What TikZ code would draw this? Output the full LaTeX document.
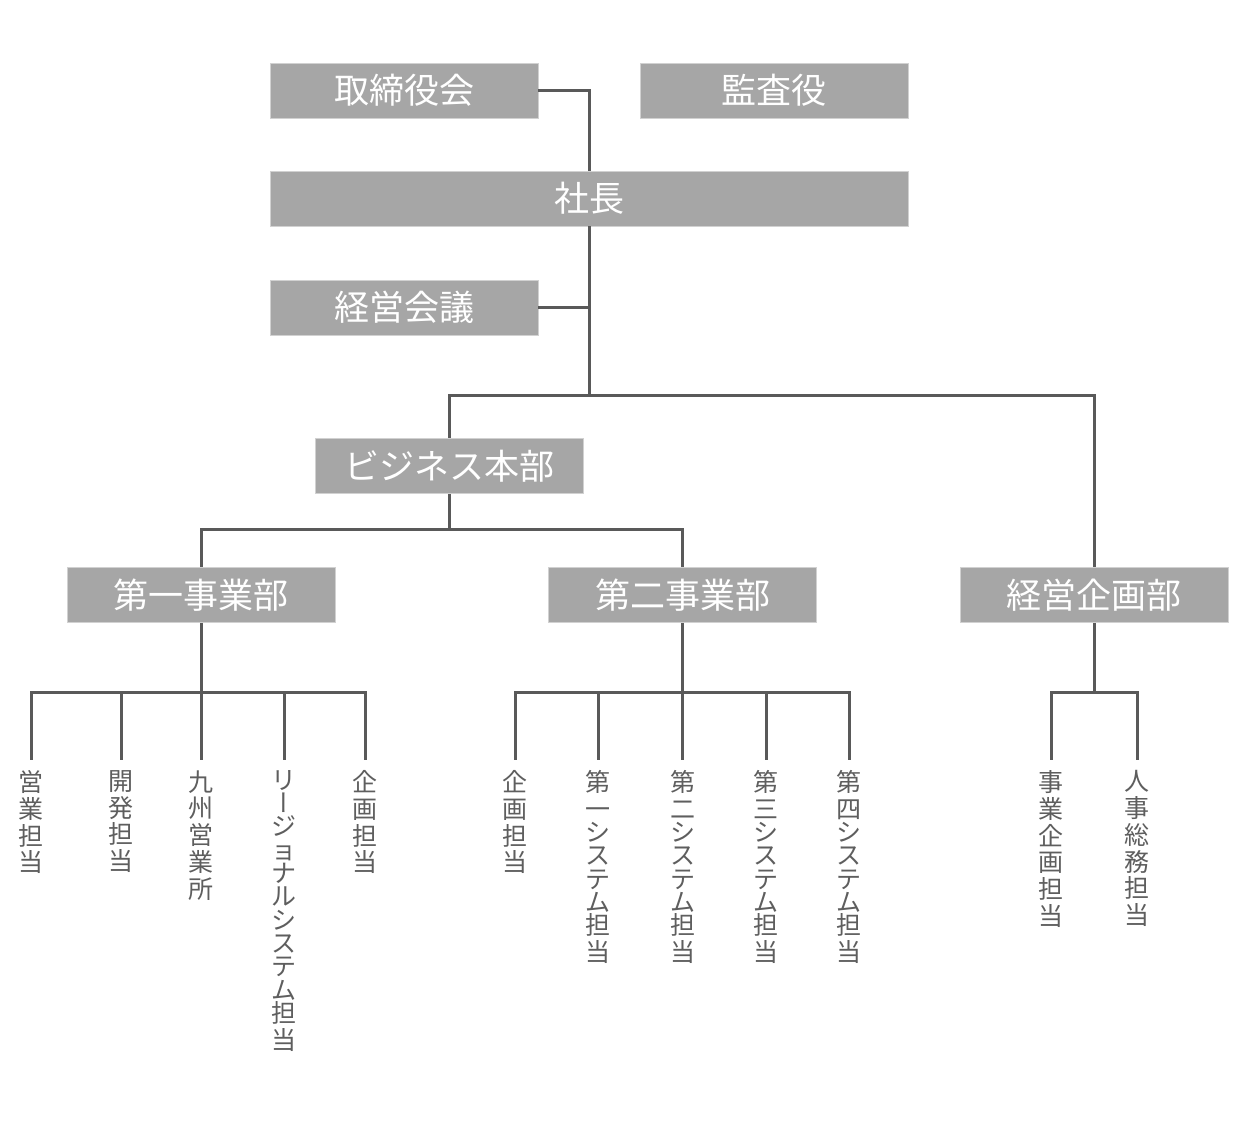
\documentclass[tikz,border=0pt]{standalone}
\usepackage{fontspec}
\setmainfont{Noto Sans CJK JP}
\newfontfamily\tatefont{Noto Sans CJK JP}[RawFeature=+vert]
\usepackage{tikz}
\definecolor{boxgray}{HTML}{A6A6A6}
\definecolor{linegray}{HTML}{595959}
\definecolor{textgray}{HTML}{5E5E5E}
\newcommand\kb{\\[-1.75pt]}

\begin{document}
\begin{tikzpicture}[x=0.5pt, y=-0.5pt,
    post/.style={fill=boxgray, draw=black!18, line width=0.4pt, text=white, minimum width=134pt, minimum height=27.5pt, inner sep=0pt, font=\fontsize{17.5}{20}\selectfont},
    team/.style={anchor=north, inner xsep=0pt, inner ysep=5pt, align=center, text=textgray, font=\fontsize{12.5}{13.4}\selectfont},
    link/.style={draw=linegray, line width=1.5pt}]
			%%%%% START %%%%%
			
			\useasboundingbox (0, 0) rectangle (1236, 1135);
			
			\node[post] (board) at (404, 90.5) {取締役会};
			\node[post] (audit) at (774, 90.5) {監査役};
			\node[post, minimum width=319pt] (pres) at (589, 198.5) {社長};
			\node[post] (mtg) at (404, 307.5) {経営会議};
			
			\node[post] (biz) at (449, 466) {ビジネス本部};
			\node[post] (div1) at (201, 595) {第一事業部};
			\node[post] (div2) at (682.5, 595) {第二事業部};
			\node[post] (plan) at (1094, 595) {経営企画部};
			
			\node[team] (s1) at (31, 760) {営\\業\\担\\当};
			\node[team] (s2) at (121, 760) {開\\発\\担\\当};
			\node[team] (s3) at (201, 760) {九\\州\\営\\業\\所};
			\node[team] (s4) at (284, 760) {リ\kb{\tatefont ー}\kb ジ\kb ョ\kb ナ\kb ル\kb シ\kb ス\kb テ\kb ム\kb 担\\当};
			\node[team] (s5) at (365, 760) {企\\画\\担\\当};
			
			\node[team] (t1) at (515, 760) {企\\画\\担\\当};
			\node[team] (t2) at (598, 760) {第\\一\kb シ\kb ス\kb テ\kb ム\kb 担\\当};
			\node[team] (t3) at (682.5, 760) {第\\二\kb シ\kb ス\kb テ\kb ム\kb 担\\当};
			\node[team] (t4) at (766, 760) {第\\三\kb シ\kb ス\kb テ\kb ム\kb 担\\当};
			\node[team] (t5) at (849, 760) {第\\四\kb シ\kb ス\kb テ\kb ム\kb 担\\当};
			
			\node[team] (u1) at (1051, 760) {事\\業\\企\\画\\担\\当};
			\node[team] (u2) at (1137, 760) {人\\事\\総\\務\\担\\当};
			
			% top
			\draw[link] (board.east) -| (pres.north);
			\draw[link] (pres.south) -- ++(0, 169) coordinate (pj);
			\draw[link] (mtg.east) -- (mtg.east -| pres.south);
			\draw[link] (pj) -| (biz.north);
			\draw[link] (pj) -| (plan.north);
			
			% divisions
			\draw[link] (biz.south) -- ++(0, 36) coordinate (bj);
			\draw[link] (bj) -| (div1.north);
			\draw[link] (bj) -| (div2.north);
			
			% teams
			\draw[link] (div1.south) -- ++(0, 69.5) coordinate (j1);
			\foreach \n in {s1,s2,s3,s4,s5}
				\draw[link] (j1) -| (\n.north);
			\draw[link] (div2.south) -- ++(0, 69.5) coordinate (j2);
			\foreach \n in {t1,t2,t3,t4,t5}
				\draw[link] (j2) -| (\n.north);
			\draw[link] (plan.south) -- ++(0, 69.5) coordinate (j3);
			\foreach \n in {u1,u2}
				\draw[link] (j3) -| (\n.north);
			
			%%%%% END %%%%%
\end{tikzpicture}
\end{document}
